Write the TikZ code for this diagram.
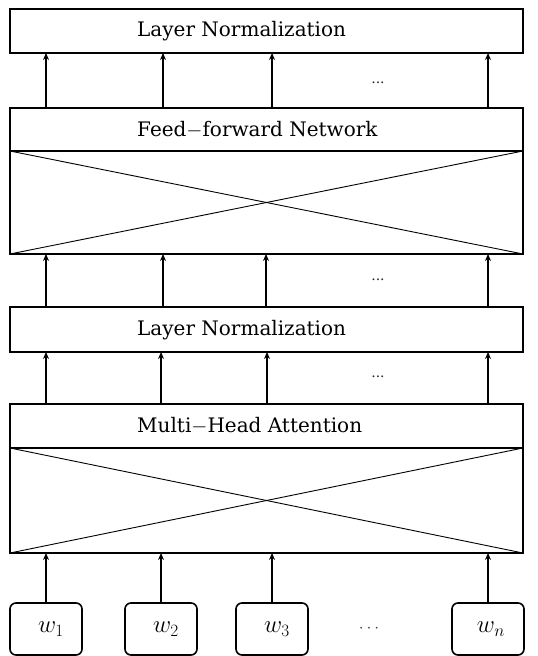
\documentclass[tikz,border=0pt]{standalone}
\usepackage{fontspec}
\newfontfamily\labelfont{DejaVu Serif}
\usetikzlibrary{arrows.meta}
\begin{document}
\begin{tikzpicture}[x=1pt,y=-1pt,
  box/.style={draw,line width=1.8pt,rectangle,inner sep=0pt,outer sep=0pt,anchor=north west},
  body/.style={draw,line width=1.8pt,rectangle,inner sep=0pt,outer sep=0pt,anchor=north west},
  title/.style={anchor=west,inner sep=0pt,font=\labelfont\fontsize{20}{24}\selectfont},
  word/.style={draw,line width=1.6pt,rounded corners=6pt,inner sep=0pt,outer sep=0pt,anchor=north west,
    minimum width=72pt,minimum height=52pt},
  wlabel/.style={inner sep=0pt,font=\fontsize{27}{30}\selectfont},
  flow/.style={line width=1.8pt,-{Stealth[length=7pt,width=6pt]}},
  cross/.style={line width=0.9pt},
  gap/.style={inner sep=0pt,font=\labelfont\fontsize{14}{16}\selectfont,text=black!85},
  wgap/.style={inner sep=0pt,font=\fontsize{17}{19}\selectfont,text=black!75}
]
\useasboundingbox (0,0) rectangle (538,656);

% stacked blocks, top to bottom
\node[box,minimum width=513pt,minimum height=44pt] (lntop) at (10,9) {};
\node[box,minimum width=513pt,minimum height=43pt] (ffnhead) at (10,108) {};
\node[body,minimum width=513pt,minimum height=103pt] (ffnbody) at (10,151) {};
\node[box,minimum width=513pt,minimum height=45pt] (lnmid) at (10,307) {};
\node[box,minimum width=513pt,minimum height=44pt] (mhahead) at (10,404) {};
\node[body,minimum width=513pt,minimum height=105pt] (mhabody) at (10,448) {};

% block titles
\node[title] (tlntop) at (137,31) {Layer Normalization};
\node[title] (tffn) at (137,130) {Feed$-$forward Network};
\node[title] (tlnmid) at (137,330) {Layer Normalization};
\node[title] (tmha) at (137,426) {Multi$-$Head Attention};

% crossings inside the two bodies
\draw[cross] (ffnbody.north west) -- (ffnbody.south east);
\draw[cross] (ffnbody.south west) -- (ffnbody.north east);
\draw[cross] (mhabody.north west) -- (mhabody.south east);
\draw[cross] (mhabody.south west) -- (mhabody.north east);

% input tokens
\node[word] (w1) at (10,603) {};
\node[word] (w2) at (125,603) {};
\node[word] (w3) at (236,603) {};
\node[word] (wn) at (452,603) {};
\node[wlabel] (lw1) at ([xshift=5pt]w1.center) {$w_1$};
\node[wlabel] (lw2) at ([xshift=5pt]w2.center) {$w_2$};
\node[wlabel] (lw3) at ([xshift=5pt]w3.center) {$w_3$};
\node[wlabel] (lwn) at ([xshift=3pt]wn.center) {$w_n$};
\node[wgap] (wdots) at (369,629) {$\cdots$};

% arrows: tokens -> attention
\draw[flow] (w1.north) -- (w1.north |- mhabody.south);
\draw[flow] (w2.north) -- (w2.north |- mhabody.south);
\draw[flow] (w3.north) -- (w3.north |- mhabody.south);
\draw[flow] (wn.north) -- (wn.north |- mhabody.south);

% arrows: attention -> layer norm
\foreach \x in {46,161,267,488}
  \draw[flow] (\x,404) -- (\x,352);
\node[gap] (d1) at (378,377) {...};

% arrows: layer norm -> feed-forward
\foreach \x in {46,163,266,488}
  \draw[flow] (\x,307) -- (\x,254);
\node[gap] (d2) at (378,280) {...};

% arrows: feed-forward -> layer norm
\foreach \x in {46,163,272,488}
  \draw[flow] (\x,108) -- (\x,53);
\node[gap] (d3) at (378,83) {...};
\end{tikzpicture}
\end{document}
